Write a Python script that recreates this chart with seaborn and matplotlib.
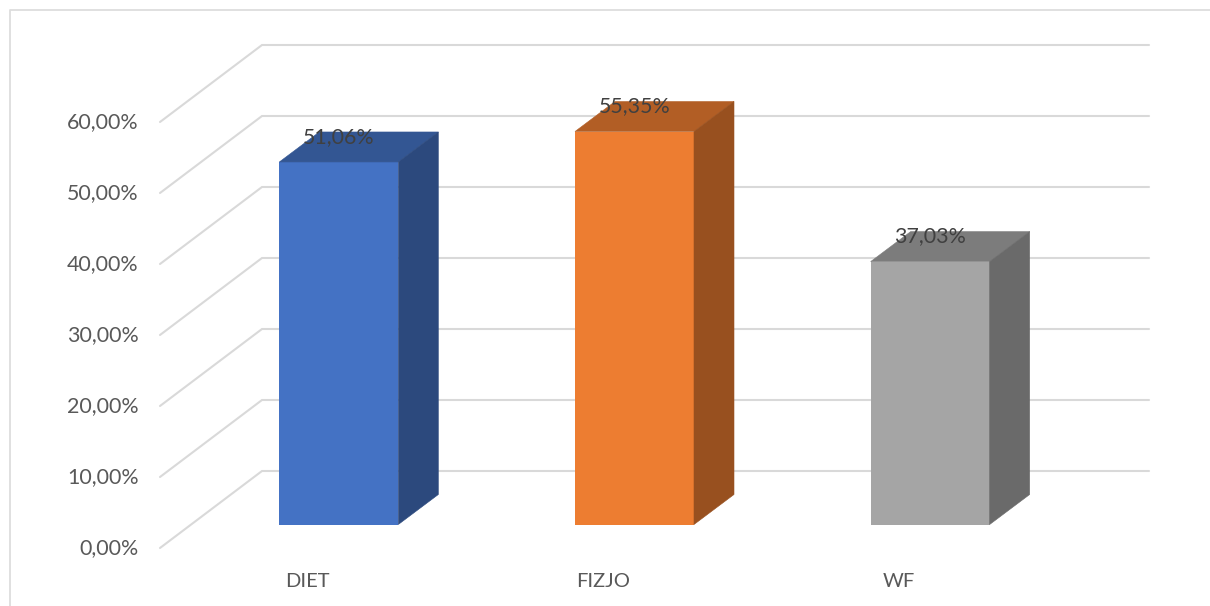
"""3D-look bar chart (DIET / FIZJO / WF) drawn on a flat seaborn barplot."""

import matplotlib
matplotlib.use("Agg")
import matplotlib.pyplot as plt
import matplotlib.colors as mcolors
from matplotlib.lines import Line2D
from matplotlib.transforms import ScaledTranslation
import pandas as pd
import seaborn as sns

W, H = 1210, 606
DPI = 100

categories = ["DIET", "FIZJO", "WF"]
values = [51.06, 55.35, 37.03]
bar_colors = ["#4472C4", "#ED7D31", "#A5A5A5"]
y_ticks = [0, 10, 20, 30, 40, 50, 60]

GRID = "#D9D9D9"
PX_X = 887 / 3      # pixels per category
PX_Y = 426 / 60     # pixels per percent


def pct(v):
    return f"{v:.2f}%".replace(".", ",")


def shade(color, factor):
    r, g, b = mcolors.to_rgb(color)
    return (r * factor, g * factor, b * factor)


sns.set_theme(style="white")
plt.rcParams["font.family"] = ["Lato", "DejaVu Sans"]

fig = plt.figure(figsize=(W / DPI, H / DPI), dpi=DPI)
ax = fig.add_axes([191 / W, 1 - 524.5 / H, 887 / W, 426 / H])

df = pd.DataFrame({"category": categories, "value": values})
sns.barplot(data=df, x="category", y="value", hue="category", palette=bar_colors,
            order=categories, hue_order=categories, width=119 / PX_X, saturation=1,
            legend=False, dodge=False, linewidth=0, zorder=3, ax=ax)
ax.set_xlim(-0.5, 2.5)
ax.set_ylim(0, 60)
ax.set_xlabel("")
ax.set_ylabel("")
ax.patch.set_visible(False)
sns.despine(ax=ax, left=True, bottom=True, top=True, right=True)

# floor and wall depth, in data units
front_dx, front_dy = -31 / PX_X, -23.5 / PX_Y
wall_dx, wall_dy = 71 / PX_X, 53.5 / PX_Y
bar_dx, bar_dy = 40 / PX_X, 30 / PX_Y

for v in y_ticks:
    ax.plot([-0.5 + front_dx, -0.5 + wall_dx, 2.5 + wall_dx],
            [v + front_dy, v + wall_dy, v + wall_dy],
            color=GRID, lw=1.5, clip_on=False, zorder=1, solid_joinstyle="miter")

# top and side faces of each bar
for patch, color in zip(ax.patches, bar_colors):
    x0, x1 = patch.get_x(), patch.get_x() + patch.get_width()
    top = patch.get_height()
    ax.fill([x0, x1, x1 + bar_dx, x0 + bar_dx],
            [top, top, top + bar_dy, top + bar_dy],
            color=shade(color, 0.75), lw=0.4, clip_on=False, zorder=3)
    ax.fill([x1, x1 + bar_dx, x1 + bar_dx, x1],
            [0, bar_dy, top + bar_dy, top],
            color=shade(color, 0.64), lw=0.4, clip_on=False, zorder=3)

for container in ax.containers:
    ax.bar_label(container, fmt=pct, padding=11, color="#404040",
                 fontsize=15.4, zorder=5)

ax.set_yticks(y_ticks, [pct(v) for v in y_ticks])
ax.tick_params(axis="y", length=0, pad=15.5, labelsize=15.4, labelcolor="#595959")
ax.tick_params(axis="x", length=0, pad=18, labelsize=14.5, labelcolor="#595959")

# tick labels sit on the front edge of the floor
shift_x = ScaledTranslation(-31 / DPI, -23.5 / DPI, fig.dpi_scale_trans)
shift_y = ScaledTranslation(-31 / DPI, -21.5 / DPI, fig.dpi_scale_trans)
for label in ax.get_xticklabels():
    label.set_transform(label.get_transform() + shift_x)
for label in ax.get_yticklabels():
    label.set_transform(label.get_transform() + shift_y)

# chart frame, only top and left show
fig.add_artist(Line2D([10 / W, 10 / W, 1], [0, 1 - 10 / H, 1 - 10 / H], color="#DDDDDD", lw=1.3))

fig.savefig("out.png", dpi=DPI)
